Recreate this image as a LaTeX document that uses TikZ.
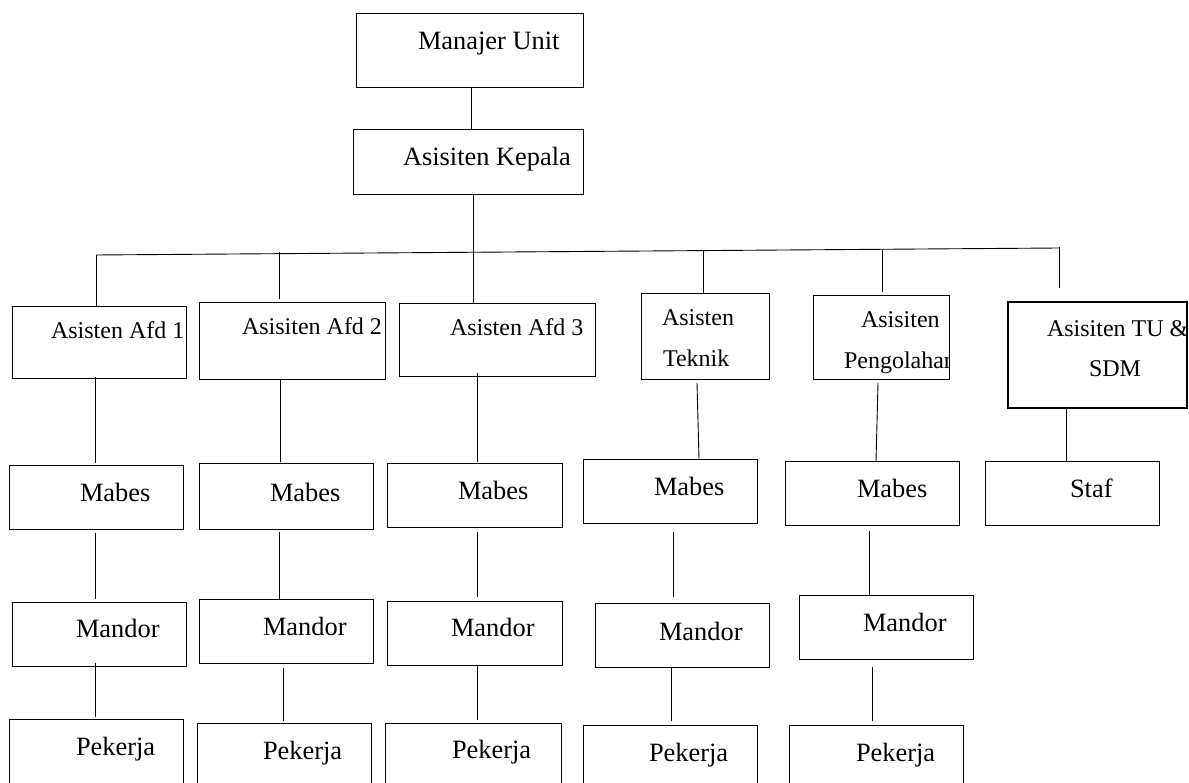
\documentclass[tikz,border=0pt]{standalone}
\usepackage{fontspec}
\setmainfont{Liberation Serif}
\newcommand\bx[6][box]{\node[#1, minimum width={#5-#3}, minimum height={#6-#4}] (#2) at ({(#3+#5)/2},{(#4+#6)/2}) {};}
\tikzset{
  box/.style={draw=black, line width=0.9pt, rectangle, inner sep=0pt, outer sep=0pt},
  thickbox/.style={box, line width=2pt},
  lbl/.style={anchor=base west, inner sep=0pt, outer sep=0pt, font=\fontsize{26.4}{30}\selectfont},
  slbl/.style={lbl, font=\fontsize{24}{28}\selectfont},
  conn/.style={draw=black, line width=0.9pt},
}
\begin{document}
\begin{tikzpicture}[x=1pt,y=-1pt]
\useasboundingbox (0,0) rectangle (1189,783);
\clip (0,0) rectangle (1189,783);
\fill[white] (0,0) rectangle (1189,783);
% top
\bx{mu}{356}{13}{583}{87}
\bx{ak}{353}{129}{583}{194}
% row 2
\bx{a1}{12}{306}{186}{378}
\bx{a2}{199}{302}{385}{379}
\bx{a3}{399}{303}{595}{376}
\bx{a4}{641}{293}{769}{379}
\bx{a5}{813}{295}{949}{379}
\bx[thickbox]{a6}{1008}{302}{1187}{408}
% row 3
\bx{m1}{9}{465}{183}{529}
\bx{m2}{199}{463}{373}{529}
\bx{m3}{387}{463}{562}{527}
\bx{m4}{583}{459}{757}{523}
\bx{m5}{785}{461}{959}{525}
\bx{m6}{985}{461}{1159}{525}
% row 4
\bx{d1}{12}{602}{186}{666}
\bx{d2}{199}{599}{373}{663}
\bx{d3}{387}{601}{562}{665}
\bx{d4}{595}{603}{769}{667}
\bx{d5}{799}{595}{973}{659}
% row 5
\bx{p1}{9}{719}{183}{800}
\bx{p2}{197}{723}{371}{800}
\bx{p3}{385}{723}{561}{800}
\bx{p4}{583}{725}{757}{800}
\bx{p5}{789}{725}{963}{800}
% labels
\node[lbl] (tmu) at (418,50) {Manajer Unit};
\node[lbl] (tak) at (403,166) {Asisiten Kepala};
\node[slbl] (ta1) at (51,339) {Asisten Afd 1};
\node[slbl] (ta2) at (242,335) {Asisiten Afd 2};
\node[slbl] (ta3) at (450,336) {Asisten Afd 3};
\node[slbl] (ta4a) at (662,326) {Asisten};
\node[slbl] (ta4b) at (663,367) {Teknik};
\node[slbl] (ta5a) at (861,328) {Asisiten};
\begin{scope}
\clip (a5.south west) rectangle (a5.north east);
\node[slbl] (ta5b) at (844,369) {Pengolahan};
\end{scope}
\node[slbl] (ta6a) at (1047,337) {Asisiten TU \&};
\node[slbl] (ta6b) at (1089,377) {SDM};
\node[lbl] (tm1) at (80,501) {Mabes};
\node[lbl] (tm2) at (270,501) {Mabes};
\node[lbl] (tm3) at (458,499) {Mabes};
\node[lbl] (tm4) at (654,495) {Mabes};
\node[lbl] (tm5) at (857,497) {Mabes};
\node[lbl] (tm6) at (1070,497) {Staf};
\node[lbl] (td1) at (76,637) {Mandor};
\node[lbl] (td2) at (263,635) {Mandor};
\node[lbl] (td3) at (451,636) {Mandor};
\node[lbl] (td4) at (659,640) {Mandor};
\node[lbl] (td5) at (863,631) {Mandor};
\node[lbl] (tp1) at (76,755) {Pekerja};
\node[lbl] (tp2) at (263,759) {Pekerja};
\node[lbl] (tp3) at (452,758) {Pekerja};
\node[lbl] (tp4) at (649,761) {Pekerja};
\node[lbl] (tp5) at (856,761) {Pekerja};
% bus and tick tops
\coordinate (busL) at (96,255);
\coordinate (busR) at (1059,248);
\coordinate (t2) at (279,252);
\coordinate (t4) at (703,251);
\coordinate (t5) at (882,250);
\coordinate (t6) at (1059,247);
\draw[conn] (busL) -- (busR);
% connectors
\draw[conn] ([shift={(1.5,0)}]mu.south) -- ([shift={(3,0)}]ak.north);
\draw[conn] ([shift={(5,0)}]ak.south) -- ([shift={(-24,0)}]a3.north);
\draw[conn] (busL) -- ([shift={(-3,0)}]a1.north);
\draw[conn] (t2) -- ([shift={(-13,-3)}]a2.north);
\draw[conn] (t4) -- ([shift={(-2,0)}]a4.north);
\draw[conn] (t5) -- ([shift={(1,-3)}]a5.north);
\draw[conn] (t6) -- ([shift={(-38.5,-14)}]a6.north);
\draw[conn] ([shift={(-4,-1)}]a1.south) -- ([shift={(-1,-2)}]m1.north);
\draw[conn] ([shift={(-12,1)}]a2.south) -- ([shift={(-6,-1)}]m2.north);
\draw[conn] ([shift={(-20,-3)}]a3.south) -- ([shift={(2.5,-1)}]m3.north);
\draw[conn] ([shift={(-8,4)}]a4.south) -- ([shift={(29,0)}]m4.north);
\draw[conn] ([shift={(-3,4)}]a5.south) -- ([shift={(4,0)}]m5.north);
\draw[conn] ([shift={(-31.5,0)}]a6.south) -- ([shift={(-6,0)}]m6.north);
\draw[conn] ([shift={(-1,4)}]m1.south) -- ([shift={(-4,-3)}]d1.north);
\draw[conn] ([shift={(-7,3)}]m2.south) -- ([shift={(-7,0)}]d2.north);
\draw[conn] ([shift={(2.5,5)}]m3.south) -- ([shift={(2.5,-4)}]d3.north);
\draw[conn] ([shift={(3,9)}]m4.south) -- ([shift={(-9,-6)}]d4.north);
\draw[conn] ([shift={(-3,6)}]m5.south) -- ([shift={(-17,0)}]d5.north);
\draw[conn] ([shift={(-4,-3)}]d1.south) -- ([shift={(-1,-2)}]p1.north);
\draw[conn] ([shift={(-3,5)}]d2.south) -- ([shift={(-1,-2)}]p2.north);
\draw[conn] ([shift={(2.5,0)}]d3.south) -- ([shift={(4,-3)}]p3.north);
\draw[conn] ([shift={(-11,1)}]d4.south) -- ([shift={(1,-4)}]p4.north);
\draw[conn] ([shift={(-14,8)}]d5.south) -- ([shift={(-4,-4)}]p5.north);
\end{tikzpicture}
\end{document}
